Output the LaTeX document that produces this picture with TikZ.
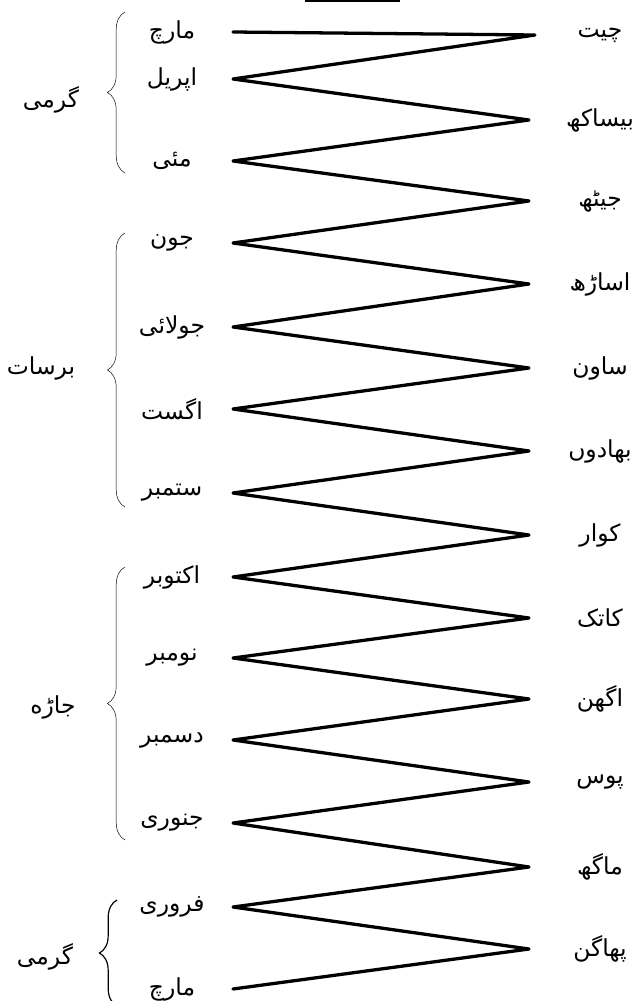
\documentclass[tikz,border=0pt]{standalone}
\usepackage{fontspec}
\newfontfamily\urdufont[Script=Arabic]{DejaVu Sans}
\TeXXeTstate=1
\usepackage{tikz}
\usetikzlibrary{decorations.pathreplacing}

\newcommand{\urtext}[1]{{\urdufont\beginR #1\endR}}

\begin{document}
\begin{tikzpicture}[x=0.03cm,y=-0.03cm,
    month/.style={font=\fontsize{20}{22}\selectfont,inner sep=0pt},
    zigzag/.style={line width=2.8pt,line join=round,line cap=round},
    seasonbrace/.style={decorate,decoration={brace,amplitude=15pt},line width=0.4pt}]
  \useasboundingbox (0,0) rectangle (638,1001);
  % english months, left side
  \foreach \y/\name [count=\k from 0] in {32/مارچ,79/اپریل,161/مئی,243/جون,
      327/جولائی,409/اگست,493/ستمبر,577/اکتوبر,658/نومبر,740/دسمبر,
      823/جنوری,907/فروری,989/مارچ}{
    \coordinate (L\k) at (233,\y);
    \node[month] (eng\k) at (172,\y) {\urtext{\name}};
  }
  % hindi months, right side
  \foreach \y/\name [count=\k from 0] in {35/چیت,120/بیساکھ,201/جیٹھ,284/اساڑھ,
      368/ساون,451/بھادوں,535/کوار,618/کاتک,699/اگھن,782/پوس,867/ماگھ,949/پھاگن}{
    \coordinate (R\k) at (529,\y);
    \node[month] (hin\k) at (600,\y) {\urtext{\name}};
  }
  \coordinate (R0) at (535,35);
  \draw[zigzag] (L0) -- (R0)
    \foreach \k in {1,...,11}{ -- (L\k) -- (R\k) } -- (L12);
  % seasons
  \node[month] (garmi) at (51,100) {\urtext{گرمی}};
  \node[month] (barsat) at (41,368) {\urtext{برسات}};
  \node[month] (jara) at (53,707) {\urtext{جاڑه}};
  \node[month] (garmib) at (45,957) {\urtext{گرمی}};
  \draw[seasonbrace] (125,173) -- (125,12);
  \draw[seasonbrace] (125,507) -- (125,233);
  \draw[seasonbrace] (125,840) -- (125,567);
  \draw[seasonbrace,line width=1pt] (117,1006) -- (117,900);
  % underline of the title
  \draw[line width=2.5pt] (305,1) -- (400,1);
\end{tikzpicture}
\end{document}
